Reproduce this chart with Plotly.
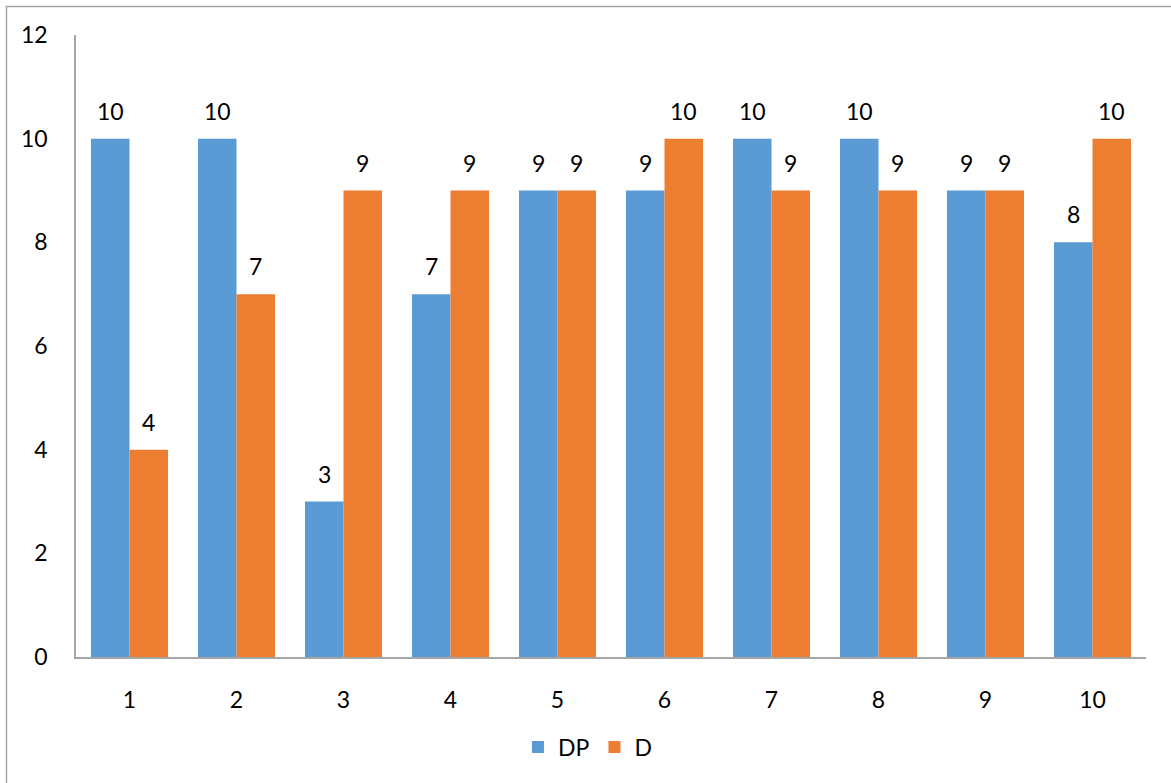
import plotly.graph_objects as go

categories = ["1", "2", "3", "4", "5", "6", "7", "8", "9", "10"]
dp_values = [10, 10, 3, 7, 9, 9, 10, 10, 9, 8]
d_values = [4, 7, 9, 9, 9, 10, 9, 9, 9, 10]
y_ticks = [0, 2, 4, 6, 8, 10, 12]

BLUE = "#5B9BD5"
ORANGE = "#ED7D31"
AXIS = "#A6A6A6"
FONT = "Lato"
FSIZE = 23

W, H = 1171, 783
ML, MR, MT, MB = 76, 25, 35, 126
PW, PH = W - ML - MR, H - MT - MB

fig = go.Figure()
fig.add_trace(go.Bar(name="DP", x=categories, y=dp_values, marker_color=BLUE,
                     marker_line_width=0))
fig.add_trace(go.Bar(name="D", x=categories, y=d_values, marker_color=ORANGE,
                     marker_line_width=0))

# value labels above each bar (category axis: x given as category index)
bargap = 0.28
half_bar = PW / len(categories) * (1 - bargap) / 4
for i, v in enumerate(dp_values):
    fig.add_annotation(x=i, y=v, text=str(v), showarrow=False,
                       xshift=-half_bar, yshift=28, yanchor="middle",
                       font=dict(family=FONT, size=FSIZE, color="black"))
for i, v in enumerate(d_values):
    fig.add_annotation(x=i, y=v, text=str(v), showarrow=False,
                       xshift=half_bar, yshift=28, yanchor="middle",
                       font=dict(family=FONT, size=FSIZE, color="black"))

# outer chart border
fig.add_shape(type="rect", xref="paper", yref="paper",
              x0=(6.5 - ML) / PW, x1=1.2,
              y0=-0.4, y1=1 + (MT - 6.5) / PH,
              line=dict(color=AXIS, width=1.5), fillcolor="rgba(0,0,0,0)",
              layer="below")

fig.update_layout(
    width=W, height=H,
    margin=dict(l=ML, r=MR, t=MT, b=MB),
    paper_bgcolor="white", plot_bgcolor="white",
    barmode="group", bargap=bargap, bargroupgap=0,
    font=dict(family=FONT, size=FSIZE, color="black"),
    showlegend=True,
    legend=dict(orientation="h", x=0.478, y=-(747 - (H - MB)) / PH,
                xanchor="center", yanchor="middle",
                font=dict(family=FONT, size=FSIZE, color="black"),
                itemwidth=30, traceorder="normal"),
    xaxis=dict(type="category", range=[-0.5, len(categories) - 0.5],
               showline=True, linecolor=AXIS, linewidth=1.5,
               showgrid=False, ticks="", ticklabelstandoff=22, zeroline=False,
               tickfont=dict(family=FONT, size=FSIZE)),
    yaxis=dict(range=[0, 12], tickvals=y_ticks, showline=True, linecolor=AXIS,
               linewidth=1.5, showgrid=False, ticks="", zeroline=False,
               ticklabelstandoff=22, tickfont=dict(family=FONT, size=FSIZE)),
)

fig.write_html("out.html")
